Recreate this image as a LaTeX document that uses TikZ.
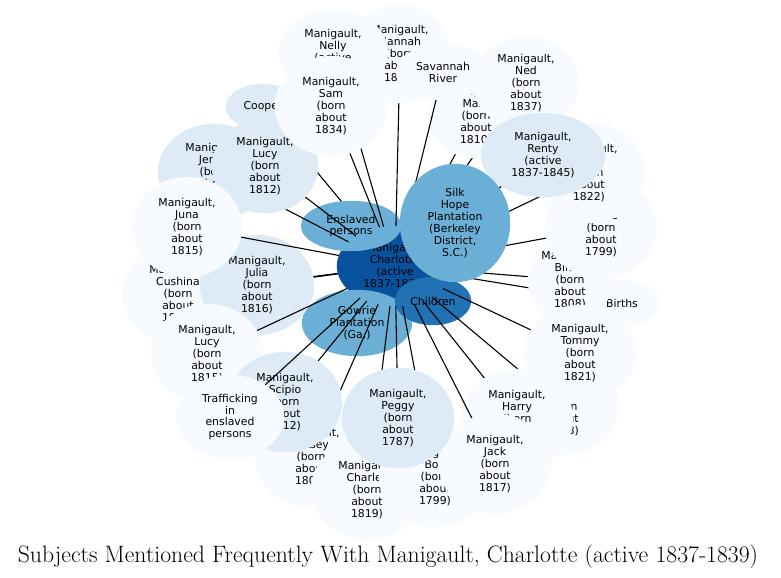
\documentclass[tikz,border=0pt]{standalone}
\usepackage{fontspec}
\newfontfamily\dejavu{DejaVu Sans}
\usetikzlibrary{shapes.geometric,calc}

\definecolor{paleblue}{HTML}{F7FBFF}
\definecolor{lightblue}{HTML}{DEEBF7}
\definecolor{midblue}{HTML}{6BAED6}
\definecolor{kidblue}{HTML}{2171B5}
\definecolor{deepblue}{HTML}{08519C}

\begin{document}
\begin{tikzpicture}[x=1bp, y=-1bp,
    slot/.style 2 args={ellipse, inner sep=0pt, minimum width=#1, minimum height=#2},
    lab/.style={font=\dejavu\fontsize{10.9}{12}\selectfont, align=center, inner sep=0pt},
    tie/.style={line width=1.1bp, black}]
    \useasboundingbox (0,0) rectangle (781,578);

    % where each subject sits, with the width and height of its blob
    \foreach \nm/\px/\py/\w/\h in {
        charlotte/395/266/116/80, silkhope/455/223/110/118, enslaved/351/226/100/50,
        gowrie/357/323/110/66, children/433/301/76/48, cooper/263/107/74/46,
        cushina/178/294/112/100, jemmy/214/172/112/96, julia/257/285/114/100,
        lucya/265/166/106/94, juna/187/227/110/100, lucyb/207/354/112/100,
        patsey/311/457/112/100, scipio/285/402/114/100, traffic/230/417/108/84,
        charles/367/490/112/100, bob/435/477/112/100, abram/563/407/112/96,
        harry/517/419/112/100, jack/495/464/112/100, peggy/398/418/112/100,
        births/622/303/76/46, binah/570/280/84/90, tommy/580/353/112/96,
        prince/601/228/112/100, jane/589/173/112/100, hannah/400/54/100/98,
        nelly/333/52/110/84, sam/331/106/112/100, mary/476/116/96/84,
        savannah/443/72/94/56, ned/526/83/106/92, renty/543/155/124/84}
        \node[slot={\w bp}{\h bp}] (\nm) at (\px,\py) {};

    % blobs from the bottom up; 1 = with its line to Charlotte, 2 = line only
    \foreach \nm/\col/\flag/\txt in {
        charlotte/deepblue/0/{Manigault,\\Charlotte\\(active\\1837-1839)},
        cooper/lightblue/1/{Cooper},
        enslaved/midblue/0/{Enslaved\\persons},
        gowrie/midblue/0/{Gowrie\\Plantation\\(Ga.)},
        children/kidblue/0/{Children},
        ned/paleblue/2/{},
        cushina/paleblue/1/{Manigault,\\Cushina\\(born\\about\\1810)},
        jemmy/lightblue/1/{Manigault,\\Jenny\\(born\\about\\1810)},
        julia/lightblue/1/{Manigault,\\Julia\\(born\\about\\1816)},
        lucya/lightblue/1/{Manigault,\\Lucy\\(born\\about\\1812)},
        juna/paleblue/1/{Manigault,\\Juna\\(born\\about\\1815)},
        lucyb/paleblue/1/{Manigault,\\Lucy\\(born\\about\\1815)},
        patsey/paleblue/1/{Manigault,\\Patsey\\(born\\about\\1805)},
        scipio/lightblue/1/{Manigault,\\Scipio\\(born\\about\\1812)},
        traffic/paleblue/1/{Trafficking\\in\\enslaved\\persons},
        charles/paleblue/1/{Manigault,\\Charles\\(born\\about\\1819)},
        bob/paleblue/1/{Manigault,\\Bob\\(born\\about\\1799)},
        abram/paleblue/1/{Manigault,\\Abram\\(born\\about\\1813)},
        harry/paleblue/1/{Manigault,\\Harry\\(born\\about\\1820)},
        jack/paleblue/1/{Manigault,\\Jack\\(born\\about\\1817)},
        peggy/lightblue/1/{Manigault,\\Peggy\\(born\\about\\1787)},
        births/paleblue/1/{Births},
        binah/paleblue/1/{Manigault,\\Binah\\(born\\about\\1808)},
        tommy/paleblue/1/{Manigault,\\Tommy\\(born\\about\\1821)},
        prince/paleblue/1/{Manigault,\\Prince\\(born\\about\\1799)},
        jane/paleblue/1/{Manigault,\\Jane\\(born\\about\\1822)},
        hannah/paleblue/1/{Manigault,\\Hannah\\(born\\about\\1818)},
        nelly/paleblue/1/{Manigault,\\Nelly\\(active\\1837-1839)},
        sam/paleblue/1/{Manigault,\\Sam\\(born\\about\\1834)},
        mary/paleblue/1/{Manigault,\\Mary\\(born\\about\\1810)},
        savannah/paleblue/1/{Savannah\\River},
        ned/paleblue/0/{Manigault,\\Ned\\(born\\about\\1837)},
        renty/lightblue/1/{Manigault,\\Renty\\(active\\1837-1845)},
        silkhope/midblue/0/{Silk\\Hope\\Plantation\\(Berkeley\\District,\\S.C.)}}
    {
        \ifnum\flag>0 \draw[tie] (charlotte) -- (\nm); \fi
        \ifnum\flag<2
            \fill[\col] let \p1=(\nm.center), \p2=(\nm.east), \p3=(\nm.north)
                in (\p1) ellipse ({\x2-\x1} and {\y3-\y1});
            \node[lab] at (\nm) {\txt};
        \fi
    }

    \node[font=\fontsize{23.8}{28}\selectfont, anchor=base] (title) at (388,562)
        {Subjects Mentioned Frequently With Manigault, Charlotte (active 1837-1839)};
\end{tikzpicture}
\end{document}
